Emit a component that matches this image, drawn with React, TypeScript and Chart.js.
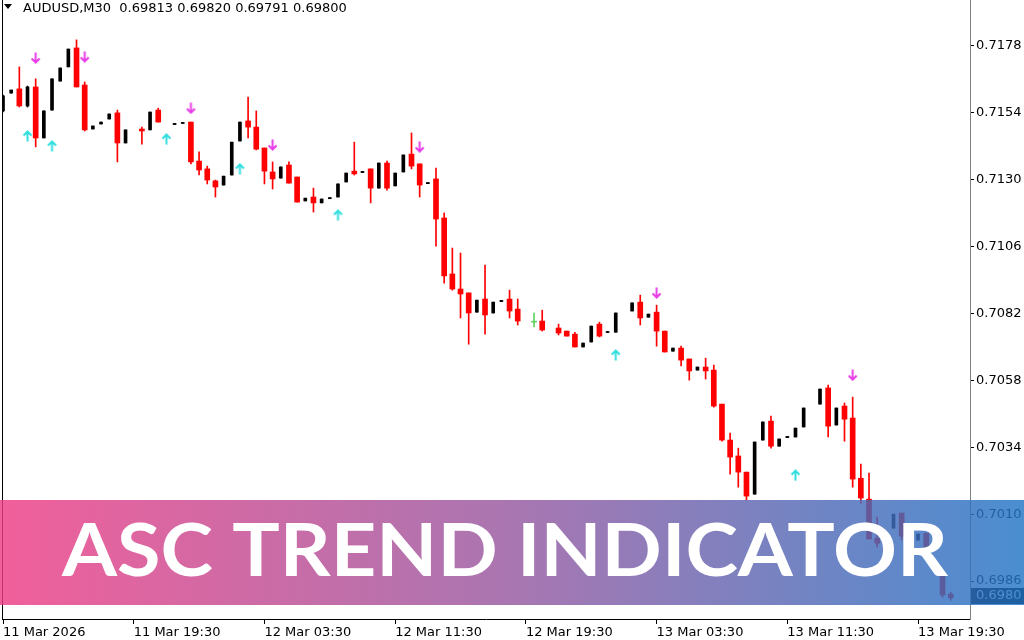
import React, { useEffect, useRef } from "react";
import { Chart, registerables } from "chart.js";

Chart.register(...registerables);

const symbolTitle = "AUDUSD,M30";
const quoteText = "0.69813 0.69820 0.69791 0.69800";
const bannerText = "ASC TREND INDICATOR";
const lastPriceLabel = "0.6980";

const opens: (number | null)[] = [
  0.71547, 0.71611, 0.71626, 0.71565, 0.71633, 0.7145, 0.7155, 0.71654, 0.71705, 0.71773,
  0.7164, 0.71482, 0.715, 0.71518, 0.7154, 0.71432, null, 0.71482, 0.71479, 0.7155,
  null, 0.71498, 0.71502, 0.71507, 0.71367, 0.71339, 0.71296, 0.71281, 0.71317, 0.71439,
  0.71511, 0.71489, 0.71414, 0.71328, 0.71306, 0.71353, 0.7131, 0.71224, 0.71238, 0.71217,
  0.71232, 0.71238, 0.71292, 0.71331, 0.71326, 0.71339, 0.7127, 0.7136, 0.71278, 0.71328,
  0.71392, 0.71357, 0.71286, 0.71303, 0.71163, 0.70962, 0.70908, 0.70894, 0.70825, 0.70872,
  0.70822, 0.70863, 0.70872, 0.70836, null, 0.70789, 0.70793, null, 0.70768, 0.70757,
  0.70746, 0.707, 0.70718, 0.70782, 0.70752, 0.70753, null, 0.70829, 0.70861, 0.70807,
  0.70825, 0.70757, 0.70685, 0.70696, 0.70657, 0.70617, 0.70628, 0.70617, 0.70495, 0.70366,
  0.70309, 0.70251, 0.70172, 0.70366, 0.70434, 0.70344, 0.70375, 0.70377, 0.70413, null,
  0.70495, 0.70553, 0.7042, 0.70488, 0.70445, 0.70229, 0.70154, 0.70014, null, 0.7005,
  0.70104, null, 0.70007, 0.70032, null, 0.69881, 0.69813,
];
const highs: (number | null)[] = [
  0.71604, 0.71622, 0.71705, 0.71636, 0.71662, 0.71547, 0.71662, 0.71701, 0.71769, 0.71802,
  0.71651, 0.71493, 0.71507, 0.71536, 0.7155, 0.71479, null, 0.71489, 0.71543, 0.71557,
  null, 0.71502, 0.71505, 0.71507, 0.714, 0.71349, 0.71299, 0.71313, 0.71435, 0.71507,
  0.71597, 0.71547, 0.71414, 0.71364, 0.71346, 0.71364, 0.7131, 0.71234, 0.7127, 0.71231,
  0.71236, 0.71285, 0.71324, 0.71435, 0.7133, 0.71339, 0.7136, 0.71367, 0.71324, 0.71389,
  0.71468, 0.71357, 0.7129, 0.71342, 0.71181, 0.71055, 0.71037, 0.70894, 0.70868, 0.70994,
  0.70861, 0.70867, 0.70904, 0.70872, null, 0.70822, 0.70832, null, 0.70782, 0.70757,
  0.70753, 0.70714, 0.70775, 0.70789, 0.70755, 0.70822, null, 0.70858, 0.70886, 0.70818,
  0.7085, 0.70757, 0.70696, 0.70703, 0.70657, 0.70628, 0.7066, 0.70635, 0.70495, 0.70391,
  0.70337, 0.70251, 0.70359, 0.70431, 0.70452, 0.7037, 0.70379, 0.70409, 0.70481, null,
  0.70549, 0.70563, 0.70481, 0.70499, 0.7052, 0.7028, 0.70248, 0.7009, null, 0.701,
  0.70104, null, 0.70029, 0.70032, null, 0.69881, 0.6982,
];
const lows: (number | null)[] = [
  0.71543, 0.71611, 0.71561, 0.71561, 0.71418, 0.7145, 0.7155, 0.71654, 0.71705, 0.71633,
  0.71475, 0.71482, 0.715, 0.71518, 0.71364, 0.71432, null, 0.71428, 0.71479, 0.71507,
  null, 0.71498, 0.71502, 0.71357, 0.71317, 0.71285, 0.71238, 0.71281, 0.71317, 0.71439,
  0.7145, 0.71407, 0.71285, 0.71267, 0.71306, 0.71288, 0.7122, 0.71224, 0.71184, 0.71217,
  0.71232, 0.71238, 0.71292, 0.71317, 0.71326, 0.71217, 0.7127, 0.71263, 0.71278, 0.71328,
  0.71339, 0.71238, 0.71286, 0.71062, 0.70929, 0.70904, 0.70804, 0.7071, 0.70825, 0.70746,
  0.70822, 0.70863, 0.70804, 0.70779, null, 0.70772, 0.70757, null, 0.70743, 0.70739,
  0.707, 0.707, 0.70718, 0.70736, 0.70752, 0.70753, null, 0.70829, 0.70779, 0.70807,
  0.70703, 0.70682, 0.70685, 0.70632, 0.70581, 0.70617, 0.70585, 0.70484, 0.70362, 0.70244,
  0.70197, 0.70151, 0.70172, 0.70366, 0.70337, 0.70344, 0.70375, 0.70377, 0.70413, null,
  0.70495, 0.70377, 0.7042, 0.70362, 0.70197, 0.7014, 0.70011, 0.69982, null, 0.7005,
  0.70007, null, 0.70007, 0.6996, null, 0.69802, 0.69791,
];
const closes: (number | null)[] = [
  0.71601, 0.71622, 0.71565, 0.71633, 0.7145, 0.71547, 0.71662, 0.71701, 0.71769, 0.71633,
  0.71479, 0.71493, 0.71507, 0.71536, 0.71432, 0.71479, null, 0.71475, 0.71543, 0.71507,
  null, 0.71502, 0.71505, 0.71364, 0.71335, 0.71299, 0.71274, 0.71313, 0.71435, 0.71507,
  0.71489, 0.7141, 0.71331, 0.71303, 0.71346, 0.71288, 0.7122, 0.71234, 0.71217, 0.71231,
  0.71236, 0.71285, 0.71324, 0.71321, 0.7133, 0.7127, 0.7136, 0.7127, 0.71324, 0.71389,
  0.71349, 0.71281, 0.7129, 0.71159, 0.70955, 0.70908, 0.7089, 0.70822, 0.70868, 0.70815,
  0.70861, 0.70867, 0.70829, 0.70793, null, 0.7079, 0.70761, null, 0.7075, 0.70739,
  0.707, 0.70714, 0.70775, 0.70739, 0.70755, 0.70822, null, 0.70858, 0.70804, 0.70818,
  0.70757, 0.70682, 0.70696, 0.70653, 0.70614, 0.70628, 0.70614, 0.70488, 0.70366, 0.70305,
  0.70251, 0.70165, 0.70359, 0.70431, 0.70344, 0.7037, 0.70379, 0.70409, 0.70481, null,
  0.70549, 0.70416, 0.70481, 0.70441, 0.70226, 0.70158, 0.70011, 0.69996, null, 0.701,
  0.70021, null, 0.70029, 0.6996, null, 0.6981, 0.698,
];
const neutralBars = [65];

const sellArrowIdx = [4, 10, 23, 33, 51, 80, 104];
const sellArrowPrice = [0.71737, 0.71741, 0.71557, 0.71425, 0.71418, 0.70894, 0.70599];
const buyArrowIdx = [3, 6, 20, 29, 41, 75, 97];
const buyArrowPrice = [0.71457, 0.71421, 0.71446, 0.71339, 0.71173, 0.70671, 0.7024];

const yTickValues = [0.6986, 0.701, 0.7034, 0.7058, 0.7082, 0.7106, 0.713, 0.7154, 0.7178];
const xTickIdx = [0, 16, 32, 48, 64, 80, 96, 112];
const xTickLabels = [
  "11 Mar 2026", "11 Mar 19:30", "12 Mar 03:30", "12 Mar 11:30",
  "12 Mar 19:30", "13 Mar 03:30", "13 Mar 11:30", "13 Mar 19:30",
];
const yMin = 0.69724;
const yMax = 0.71945;
const xMin = -0.1224;
const xMax = 118.36;

const RED = "#ff0000";
const BLACK = "#000000";
const GREEN = "#5fd35f";
const FONT = "DejaVu Sans";

function makeArrow(color: string, down: boolean) {
  const c = document.createElement("canvas");
  c.width = 11;
  c.height = 12;
  const g = c.getContext("2d")!;
  g.strokeStyle = color;
  g.lineWidth = 2;
  g.beginPath();
  if (down) {
    g.moveTo(5.5, 0.5);
    g.lineTo(5.5, 10.5);
    g.moveTo(1.5, 6.5);
    g.lineTo(5.5, 10.5);
    g.lineTo(9.5, 6.5);
  } else {
    g.moveTo(5.5, 11.5);
    g.lineTo(5.5, 1.5);
    g.moveTo(1.5, 5.5);
    g.lineTo(5.5, 1.5);
    g.lineTo(9.5, 5.5);
  }
  g.stroke();
  return c;
}

const overlayPlugin = {
  id: "overlay",
  afterDraw(chart: any) {
    const ctx: CanvasRenderingContext2D = chart.ctx;
    const area = chart.chartArea;
    const yS = chart.scales.y;
    ctx.save();
    // left frame line
    ctx.fillStyle = "#000";
    ctx.fillRect(Math.round(area.left), 0, 1, Math.round(area.bottom));
    // header
    ctx.beginPath();
    ctx.moveTo(4, 4);
    ctx.lineTo(12, 4);
    ctx.lineTo(8, 9);
    ctx.closePath();
    ctx.fill();
    ctx.font = `13px "${FONT}"`;
    ctx.textBaseline = "alphabetic";
    ctx.textAlign = "left";
    ctx.fillText(`${symbolTitle}  ${quoteText}`, 23, 12);
    // current price tag
    const lastClose = closes[closes.length - 1] as number;
    const py = Math.round(yS.getPixelForValue(lastClose)) - 2;
    ctx.fillStyle = "#000";
    ctx.fillRect(Math.round(area.right) + 1, py - 8, 1024 - Math.round(area.right) - 1, 16);
    ctx.fillStyle = "#fff";
    ctx.textBaseline = "middle";
    ctx.fillText(lastPriceLabel, Math.round(area.right) + 6, py);
    // banner
    const g = ctx.createLinearGradient(0, 0, 1024, 0);
    g.addColorStop(0, "rgba(238,60,132,0.82)");
    g.addColorStop(0.5, "rgba(150,88,160,0.82)");
    g.addColorStop(1, "rgba(34,117,198,0.82)");
    ctx.fillStyle = g;
    ctx.fillRect(0, 500, 1024, 105);
    ctx.font = `700 72px Lato`;
    ctx.textBaseline = "alphabetic";
    const w = ctx.measureText(bannerText).width;
    ctx.translate(62, 576);
    ctx.scale(886 / w, 1);
    ctx.fillStyle = "#ffffff";
    ctx.fillText(bannerText, 0, 0);
    ctx.restore();
  },
};

export default function App() {
  const ref = useRef<HTMLCanvasElement>(null);
  useEffect(() => {
    document.body.style.margin = "0";
    const redBodies: any[] = [];
    const blackBodies: any[] = [];
    const greenBodies: any[] = [];
    const redWicks: any[] = [];
    const blackWicks: any[] = [];
    const greenWicks: any[] = [];
    for (let i = 0; i < opens.length; i++) {
      const o = opens[i];
      const c = closes[i];
      const h = highs[i];
      const l = lows[i];
      if (o == null || c == null || h == null || l == null) continue;
      const body = { x: i, y: [Math.min(o, c), Math.max(o, c)] };
      const wick = { x: i, y: [l, h] };
      if (neutralBars.includes(i)) {
        greenBodies.push(body);
        greenWicks.push(wick);
      } else if (c >= o) {
        blackBodies.push(body);
        blackWicks.push(wick);
      } else {
        redBodies.push(body);
        redWicks.push(wick);
      }
    }
    const upArrow = makeArrow("#33dede", false);
    const downArrow = makeArrow("#e83ce8", true);
    const barCommon = { grouped: false, borderWidth: 0, minBarLength: 1, borderSkipped: false };
    const chart = new Chart(ref.current!, {
      type: "bar",
      data: {
        datasets: [
          { type: "line", data: sellArrowIdx.map((x, k) => ({ x, y: sellArrowPrice[k] })), showLine: false, pointStyle: downArrow as any, pointRadius: 5, order: 0 } as any,
          { type: "line", data: buyArrowIdx.map((x, k) => ({ x, y: buyArrowPrice[k] })), showLine: false, pointStyle: upArrow as any, pointRadius: 5, order: 0 } as any,
          { ...barCommon, data: redBodies, backgroundColor: RED, barThickness: 5, order: 1 } as any,
          { ...barCommon, data: blackBodies, backgroundColor: BLACK, barThickness: 3, order: 1 } as any,
          { ...barCommon, data: greenBodies, backgroundColor: GREEN, barThickness: 5, order: 1 } as any,
          { ...barCommon, data: redWicks, backgroundColor: RED, barThickness: 1, order: 2 } as any,
          { ...barCommon, data: blackWicks, backgroundColor: BLACK, barThickness: 1, order: 2 } as any,
          { ...barCommon, data: greenWicks, backgroundColor: GREEN, barThickness: 1, order: 2 } as any,
        ],
      },
      options: {
        animation: false,
        responsive: false,
        events: [],
        layout: { autoPadding: false, padding: { left: 2, top: 0, right: 0, bottom: 0 } },
        plugins: { legend: { display: false }, tooltip: { enabled: false }, title: { display: false } },
        scales: {
          x: {
            type: "linear",
            min: xMin,
            max: xMax,
            offset: false,
            position: "bottom",
            afterBuildTicks: (s: any) => {
              s.ticks = xTickIdx.map((v) => ({ value: v }));
            },
            afterFit: (s: any) => {
              s.height = 21;
              s.paddingLeft = 0;
              s.paddingRight = 0;
            },
            ticks: {
              autoSkip: false,
              maxRotation: 0,
              minRotation: 0,
              align: "start",
              padding: 1,
              color: "#000",
              font: { family: FONT, size: 13 },
              callback: (_v: any, idx: number) => xTickLabels[idx],
            },
            grid: { drawOnChartArea: false, drawTicks: true, tickLength: 5, color: "#000", offset: false },
            border: { display: true, color: "#000" },
          },
          y: {
            type: "linear",
            position: "right",
            min: yMin,
            max: yMax,
            afterBuildTicks: (s: any) => {
              s.ticks = yTickValues.map((v) => ({ value: v }));
            },
            afterFit: (s: any) => {
              s.width = 54;
              s.paddingTop = 0;
              s.paddingBottom = 0;
            },
            ticks: {
              padding: 2,
              color: "#000",
              font: { family: FONT, size: 13 },
              callback: (v: any) => Number(v).toFixed(4),
            },
            grid: { drawOnChartArea: false, drawTicks: true, tickLength: 4, color: "#000" },
            border: { display: true, color: "#808080" },
          },
        },
      } as any,
      plugins: [overlayPlugin],
    });
    return () => chart.destroy();
  }, []);
  return (
    <div style={{ position: "fixed", left: 0, top: 0, width: 1024, height: 640, background: "#fff" }}>
      <canvas ref={ref} width={1024} height={640} style={{ display: "block" }} />
    </div>
  );
}
